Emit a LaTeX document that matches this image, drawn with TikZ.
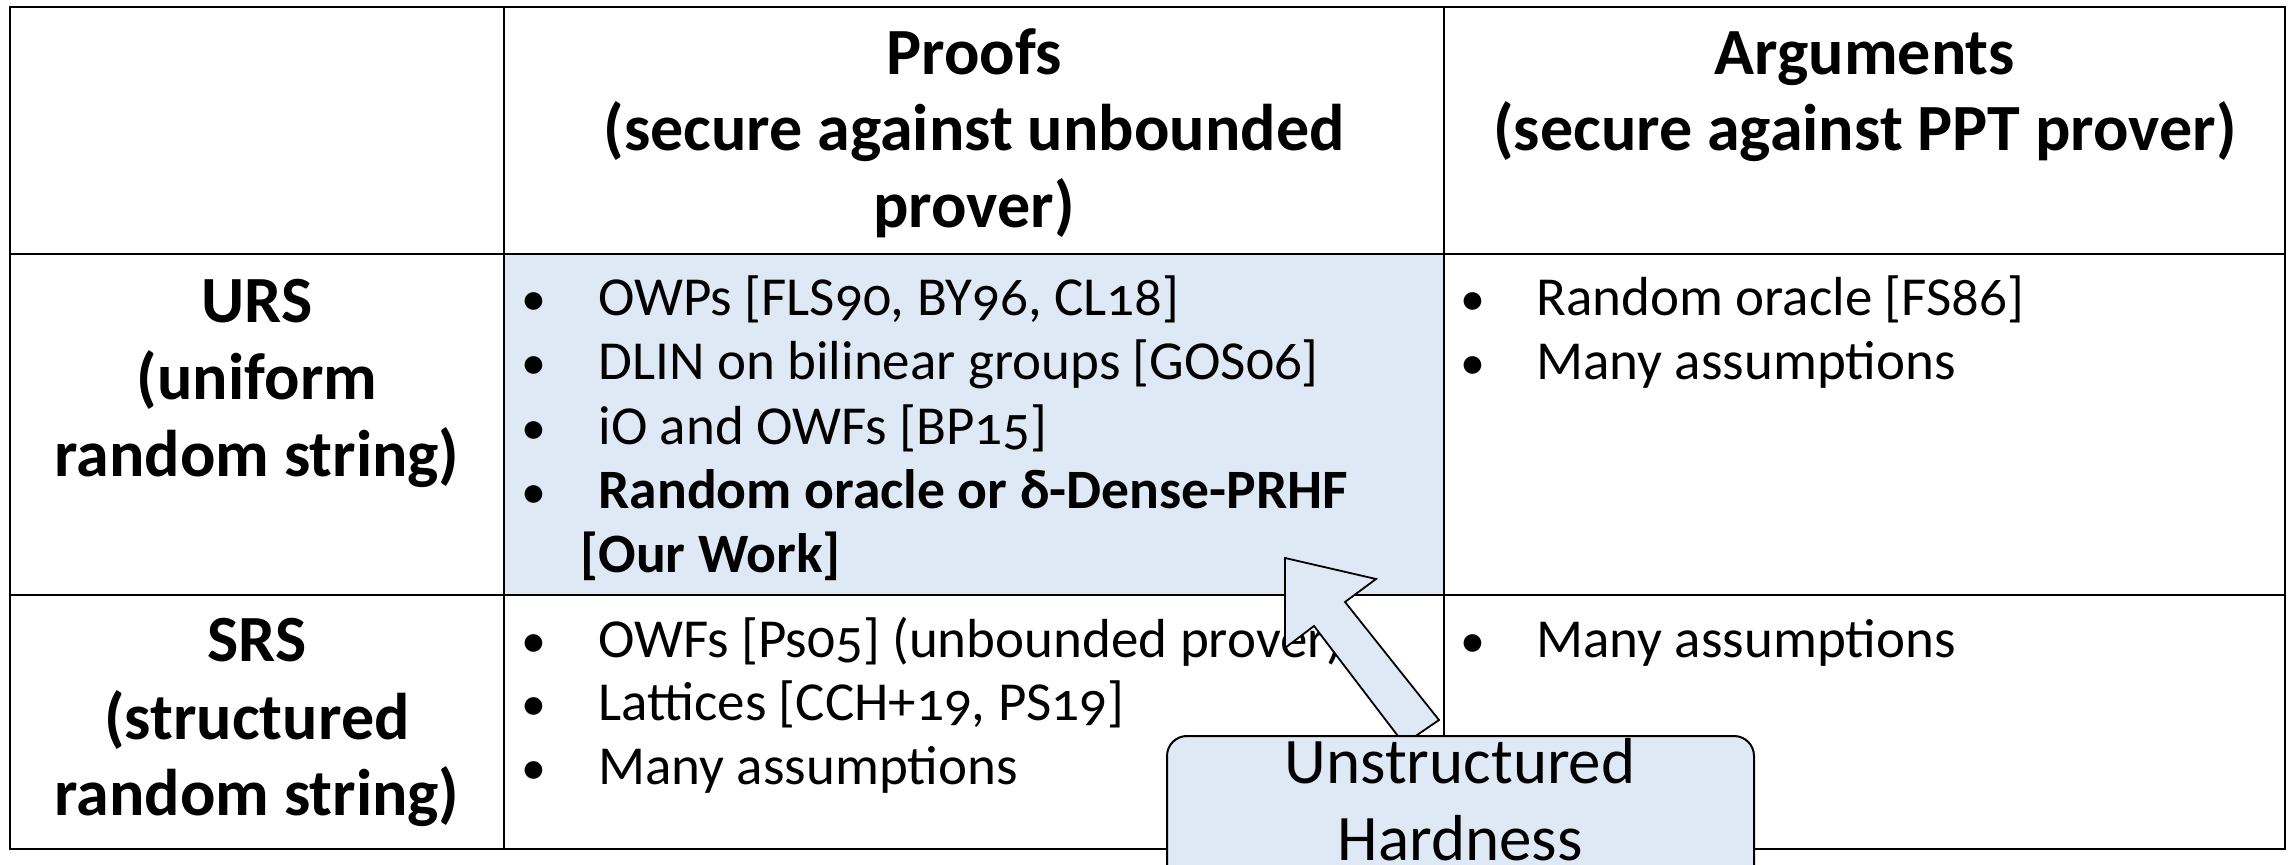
\documentclass[tikz,border=0pt]{standalone}
\usepackage{fontspec}
\setmainfont{Carlito}[Numbers=OldStyle]
\definecolor{cellblue}{HTML}{DEE9F5}
\tikzset{
  grid/.style={line width=1.3pt, black},
  head/.style={font=\fontsize{33}{40}\selectfont\bfseries, anchor=mid, inner sep=0pt},
  body/.style={font=\fontsize{27.5}{33}\selectfont, anchor=mid west, inner sep=0pt},
  bodyb/.style={font=\fontsize{27.8}{33}\selectfont\bfseries, anchor=mid west, inner sep=0pt},
  bul/.style={font=\fontsize{25}{30}\selectfont, anchor=mid, inner sep=0pt},
  callout/.style={font=\fontsize{32.5}{39}\selectfont, anchor=mid, inner sep=0pt},
  blockarrow/.style={fill=cellblue, draw=black, line width=0.9pt, line join=miter},
  calloutbox/.style={fill=cellblue, draw=black, line width=1pt, rounded corners=10pt}
}
\begin{document}
\begin{tikzpicture}[x=0.5pt,y=-0.5pt]
\useasboundingbox (0,0) rectangle (2292,865);
% shaded cell
\fill[cellblue] (504,254) rectangle (1444,595);
% table grid
\draw[grid] (10,7) rectangle (2285,849);
\draw[grid] (504,7) -- (504,849);
\draw[grid] (1444,7) -- (1444,849);
\draw[grid] (10,254) -- (2285,254);
\draw[grid] (10,595) -- (2285,595);
% headers
\node[head] (h1a) at (974,70) {Proofs};
\node[head] (h1b) at (974,146) {(secure against unbounded};
\node[head] (h1c) at (974,223) {prover)};
\node[head] (h2a) at (1865,70) {Arguments};
\node[head] (h2b) at (1865,146) {(secure against PPT prover)};
% row labels
\node[head] (r1a) at (257,318) {URS};
\node[head] (r1b) at (257,395) {(uniform};
\node[head] (r1c) at (257,472) {random string)};
\node[head] (r2a) at (257,657) {SRS};
\node[head] (r2b) at (257,735) {(structured};
\node[head] (r2c) at (257,811) {random string)};
% URS / proofs
\node[bul] (b11) at (534,311) {•};
\node[body] (t11) at (598,311) {OWPs [FLS90, BY96, CL18]};
\node[bul] (b12) at (534,375) {•};
\node[body] (t12) at (598,375) {DLIN on bilinear groups [GOS06]};
\node[bul] (b13) at (534,440) {•};
\node[body] (t13) at (598,440) {iO and OWFs [BP15]};
\node[bul] (b14) at (534,504) {•};
\node[bodyb] (t14) at (598,504) {Random oracle or δ-Dense-PRHF};
\node[bodyb] (t15) at (580,568) {[Our Work]};
% URS / arguments
\node[bul] (b21) at (1473,311) {•};
\node[body] (t21) at (1536,311) {Random oracle [FS86]};
\node[bul] (b22) at (1473,375) {•};
\node[body] (t22) at (1536,375) {Many assumptions};
% SRS / proofs
\node[bul] (b31) at (534,653) {•};
\node[body] (t31) at (598,653) {OWFs [Ps05] (unbounded prover)};
\node[bul] (b32) at (534,716) {•};
\node[body] (t32) at (598,716) {Lattices [CCH+19, PS19]};
\node[bul] (b33) at (534,780) {•};
\node[body] (t33) at (598,780) {Many assumptions};
% SRS / arguments
\node[bul] (b41) at (1473,653) {•};
\node[body] (t41) at (1536,653) {Many assumptions};
% block arrow
\draw[blockarrow] (1285,558) -- (1376,579) -- (1345,602) -- (1439,720)
  -- (1404,744) -- (1314,626) -- (1285,648) -- cycle;
% callout
\draw[calloutbox] (1167,900) -- (1167,736) -- (1754,736) -- (1754,900);
\node[callout] (c1) at (1460,779) {Unstructured};
\node[callout] (c2) at (1460,856) {Hardness};
\end{tikzpicture}
\end{document}
